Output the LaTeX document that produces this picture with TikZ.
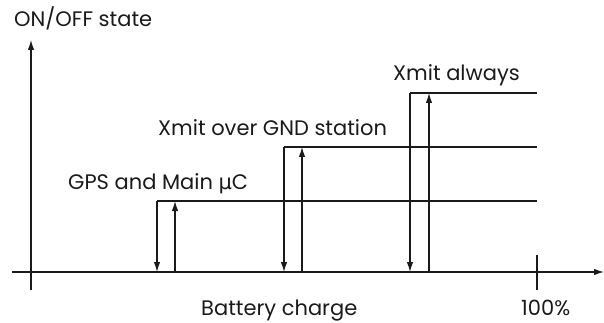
\documentclass[tikz,border=0pt]{standalone}
\usepackage{fontspec}
\setmainfont{Poppins}
\newfontfamily\mufont{DejaVu Sans}
\usetikzlibrary{arrows.meta}
\definecolor{ink}{HTML}{1A1A1A}
\begin{document}
\begin{tikzpicture}[x=1pt,y=-1pt,
  line/.style={draw=ink,line width=1.2pt},
  arr/.style={line,-{Latex[length=10pt,width=6.5pt]}},
  lbl/.style={inner sep=0pt,anchor=base west,text=ink,font=\fontsize{21}{24}\selectfont}]
\useasboundingbox (0,0) rectangle (604,323);
% axes
\coordinate (yb) at (31,290);
\coordinate (yt) at (31,40);
\coordinate (xl) at (12,272);
\coordinate (xr) at (604,272);
\coordinate (tk1) at (537,255);
\coordinate (tk2) at (537,290);
\draw[arr] (yb) -- (yt);
\draw[arr] (xl) -- (xr);
\draw[line] (tk1) -- (tk2);
% level 1: GPS
\coordinate (a1) at (157,201); \coordinate (a1e) at (537,201);
\coordinate (a1b) at (157,272);
\coordinate (b1) at (175,272); \coordinate (b1t) at (175,201);
\draw[line] (a1) -- (a1e);
\draw[arr] (a1) -- (a1b);
\draw[arr] (b1) -- (b1t);
% level 2: GND
\coordinate (a2) at (284,147); \coordinate (a2e) at (537,147);
\coordinate (a2b) at (284,272);
\coordinate (b2) at (302,272); \coordinate (b2t) at (302,147);
\draw[line] (a2) -- (a2e);
\draw[arr] (a2) -- (a2b);
\draw[arr] (b2) -- (b2t);
% level 3: always
\coordinate (a3) at (410,93); \coordinate (a3e) at (537,93);
\coordinate (a3b) at (410,272);
\coordinate (b3) at (429,272); \coordinate (b3t) at (429,93);
\draw[line] (a3) -- (a3e);
\draw[arr] (a3) -- (a3b);
\draw[arr] (b3) -- (b3t);
% labels
\node[lbl] (ylab) at (14,27) {ON/OFF state};
\node[lbl] (l1) at (68,189) {GPS and Main {\mufont μ}C};
\node[lbl] (l2) at (158,135.5) {Xmit over GND station};
\node[lbl] (l3) at (393,81) {Xmit always};
\node[lbl] (xlab) at (201,315.5) {Battery charge};
\node[lbl] (pct) at (521,315.5) {100\%};
\end{tikzpicture}
\end{document}
